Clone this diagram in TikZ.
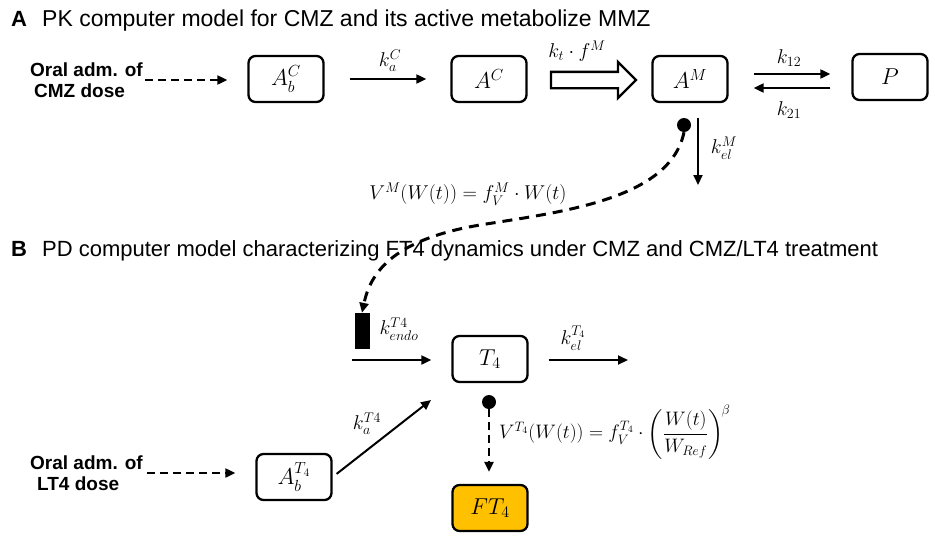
\RequirePackage{fix-cm}
\documentclass[tikz,border=0pt]{standalone}
\usepackage{amsmath}
\usepackage{fontspec}
\setmainfont{Liberation Sans}
\usetikzlibrary{arrows.meta,shapes.arrows}
\definecolor{ftfill}{HTML}{FFC000}
\begin{document}
\begin{tikzpicture}[x=1pt,y=-1pt,
 box/.style={draw,rounded corners=7pt,line width=2.3pt,minimum width=75pt,minimum height=46pt,inner sep=0pt,font=\fontsize{23}{26}\selectfont},
 arr/.style={line width=2pt,-{Triangle[length=10pt,width=9pt]}},
 darr/.style={arr,dash pattern=on 8pt off 5pt},
 lbl/.style={font=\fontsize{20}{24}\selectfont,inner sep=0pt},
 oral/.style={font=\bfseries\fontsize{19}{21}\selectfont,align=left,inner sep=0pt},
 ttl/.style={anchor=base west,inner sep=0pt},
 pin/.style={circle,fill,inner sep=0pt,minimum size=14pt}
]
\useasboundingbox (0,0) rectangle (935,539);
% titles
\node[ttl,font=\bfseries\fontsize{22}{26}\selectfont] (tA) at (11,26) {A};
\node[ttl,font=\fontsize{23}{26}\selectfont] (tAt) at (42,26) {PK computer model for CMZ and its active metabolize MMZ};
\node[ttl,font=\bfseries\fontsize{22}{26}\selectfont] (tB) at (11,256) {B};
\node[ttl,font=\fontsize{22}{26}\selectfont] (tBt) at (42,256) {PD computer model characterizing FT4 dynamics under CMZ and CMZ/LT4 treatment};
% panel A
\node[oral,anchor=east] (oralC) at (143,80) {Oral adm. of\\\hspace*{4pt}CMZ dose};
\node[box] (AbC) at (286,79) {$A_b^C$};
\node[box] (AC) at (489,79) {$A^C$};
\node[box] (AM) at (690,79) {$A^M$};
\node[box] (P) at (890,77) {$P$};
\draw[darr,shorten >=20pt] (oralC.east) ++(2,0) coordinate (oCs) (oCs) -- (oCs -| AbC.west);
\draw[arr,shorten <=25pt,shorten >=24pt] (AbC.east) -- (AC.west);
\node[lbl] (kaC) at (390,61) {$k_a^C$};
\node[single arrow,draw,line width=2.3pt,inner sep=7pt,minimum height=85pt,single arrow head extend=10pt,single arrow head indent=0pt] (tr) at (589.5,80) {};
\node[lbl] (ktf) at (577,51) {$k_t\cdot f^M$};
\draw[arr,shorten <=25pt,shorten >=21pt] ([yshift=5pt]AM.east) -- ([yshift=5pt]AM.east -| P.west);
\draw[arr,shorten <=21pt,shorten >=25pt] ([yshift=-9pt]AM.east -| P.west) -- ([yshift=-9pt]AM.east);
\node[lbl] (k12) at (789,58) {$k_{12}$};
\node[lbl] (k21) at (789,110) {$k_{21}$};
\coordinate (elM) at (698,185);
\draw[arr,shorten <=15pt] (AM.south -| elM) -- (elM);
\node[lbl] (kelM) at (724,148) {$k_{el}^M$};
\node[pin] (pM) at (684,125) {};
\node[lbl] (VM) at (468,194) {$V^M(W(t)) = f_V^M\cdot W(t)$};
% panel B
\node[box] (T4) at (490,359) {$T_4$};
\node[box,fill=ftfill] (FT4) at (490,508) {$FT_4$};
\node[box] (AbT) at (294,477) {$A_b^{T_4}$};
\node[draw,fill,inner sep=0pt,minimum width=14pt,minimum height=35pt] (endo) at (362,330.5) {};
\draw[line width=3pt,dash pattern=on 10pt off 7pt,-{Triangle[length=10pt,width=9pt]}]
  (pM.south) .. controls (670,200) and (560,212) .. (480,225)
  .. controls (390,240) and (370,275) .. (endo.north);
\coordinate (endoS) at (352,360);
\draw[arr,shorten >=20pt] (endoS) -- (endoS -| T4.west);
\node[lbl] (kendo) at (399,329) {$k_{endo}^{T4}$};
\coordinate (elT) at (628,360);
\draw[arr,shorten <=20pt] (elT -| T4.east) -- (elT);
\node[lbl] (kelT) at (573,338) {$k_{el}^{T_4}$};
\node[pin] (pT) at (489,402) {};
\draw[darr,line width=2.3pt] (pT.south) -- ([yshift=12pt]FT4.north -| pT);
\node[lbl,anchor=west,font=\fontsize{19.5}{23}\selectfont] (VT) at (499,432) {$V^{T_4}(W(t)) = f_V^{T_4}\cdot\left(\dfrac{W(t)}{W_{Ref}}\right)^{\!\beta}$};
\node[oral,anchor=east] (oralT) at (143,473) {Oral adm. of\\\hspace*{7pt}LT4 dose};
\draw[darr,shorten >=20pt] (oralT.east) ++(4,0) coordinate (oTs) (oTs) -- (oTs -| AbT.west);
\coordinate (kaTe) at (431,400);
\draw[arr,shorten <=5pt] (AbT.east) -- (kaTe);
\node[lbl] (kaT) at (367,424) {$k_a^{T4}$};
\end{tikzpicture}
\end{document}
